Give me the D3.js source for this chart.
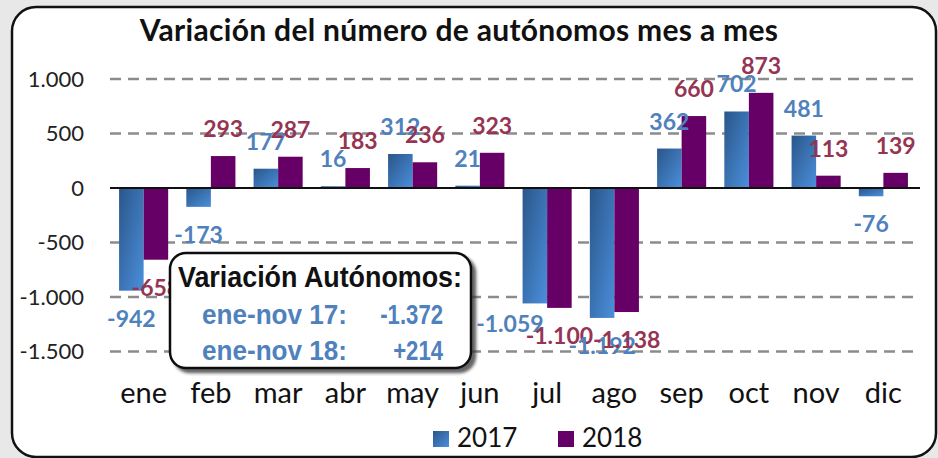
<!DOCTYPE html>
<html>
<head>
<meta charset="utf-8">
<title>Variación del número de autónomos mes a mes</title>
<script src="https://d3js.org/d3.v7.min.js"></script>
<style>
  body { margin: 0; background: #e8e8e8; }
  svg { display: block; }
  text { font-family: Lato, "Open Sans", sans-serif; }
  .box text { font-family: "Liberation Sans", Arial, sans-serif; }
</style>
</head>
<body>
<script>
// Data
var months = ["ene", "feb", "mar", "abr", "may", "jun", "jul", "ago", "sep", "oct", "nov", "dic"];
var years = ["2017", "2018"];
var values2017 = [-942, -173, 177, 16, 312, 21, -1059, -1192, 362, 702, 481, -76];
var values2018 = [-658, 293, 287, 183, 236, 323, -1100, -1138, 660, 873, 113, 139];
var yTicks = [1000, 500, 0, -500, -1000, -1500];
var title = "Variación del número de autónomos mes a mes";
var boxTitle = "Variación Autónomos:";
var boxRows = [["ene-nov 17:", "-1.372"], ["ene-nov 18:", "+214"]];

var W = 938, H = 458;
var svg = d3.select("body").append("svg")
  .attr("width", W)
  .attr("height", H);

var defs = svg.append("defs");
var grad = defs.append("linearGradient")
  .attr("id", "blueGrad")
  .attr("x1", "0").attr("y1", "0").attr("x2", "1").attr("y2", "1");
grad.append("stop").attr("offset", "0%").attr("stop-color", "#2a5689");
grad.append("stop").attr("offset", "100%").attr("stop-color", "#4b8fdc");

var shadow = defs.append("filter").attr("id", "shadow")
  .attr("x", "-10%").attr("y", "-10%").attr("width", "130%").attr("height", "130%");
shadow.append("feDropShadow")
  .attr("dx", 4).attr("dy", 4).attr("stdDeviation", 1.5)
  .attr("flood-color", "#333").attr("flood-opacity", 0.75);

// Outer frame
svg.append("rect")
  .attr("x", 0).attr("y", 0).attr("width", W).attr("height", H)
  .attr("fill", "#e8e8e8");
svg.append("rect")
  .attr("x", 12).attr("y", 7).attr("width", 924).attr("height", 450)
  .attr("rx", 24)
  .attr("fill", "#fff")
  .attr("stroke", "#111")
  .attr("stroke-width", 2.5);

// Title
svg.append("text")
  .attr("x", 459).attr("y", 41)
  .attr("text-anchor", "middle")
  .style("font-size", "30px")
  .style("font-weight", "bold")
  .style("letter-spacing", "0.3px")
  .attr("fill", "#111")
  .text(title);

// Scales
var x = d3.scaleBand()
  .domain(months)
  .range([110, 917])
  .paddingInner(0.27)
  .paddingOuter(0.135);

var xs = d3.scaleBand()
  .domain(years)
  .range([0, x.bandwidth()]);

var y = d3.scaleLinear()
  .domain([-1500, 1000])
  .range([351.5, 79]);

// Gridlines
svg.append("g")
  .selectAll("line")
  .data(yTicks.filter(function(d) { return d !== 0; }))
  .enter().append("line")
  .attr("x1", 110).attr("x2", 920)
  .attr("y1", function(d) { return y(d); })
  .attr("y2", function(d) { return y(d); })
  .attr("stroke", "#8c8c8c")
  .attr("stroke-width", 2.5)
  .attr("stroke-dasharray", "11,7");

// Y axis
var yAxis = svg.append("g")
  .attr("transform", "translate(84,0)")
  .call(d3.axisLeft(y).tickValues(yTicks).tickSize(0).tickPadding(0)
    .tickFormat(function(d) { return d3.format(",")(d).replace(/,/g, ".").replace("−", "-"); }));
yAxis.select(".domain").remove();
yAxis.selectAll("text")
  .style("font-family", "Lato, sans-serif")
  .style("font-size", "22px")
  .attr("fill", "#222");

// Bars
var rows = months.map(function(m, i) {
  return { month: m, vals: [
    { year: "2017", v: values2017[i] },
    { year: "2018", v: values2018[i] }
  ]};
});

var groups = svg.append("g")
  .selectAll("g")
  .data(rows)
  .enter().append("g")
  .attr("transform", function(d) { return "translate(" + x(d.month) + ",0)"; });

groups.selectAll("rect")
  .data(function(d) { return d.vals; })
  .enter().append("rect")
  .attr("x", function(d) { return xs(d.year); })
  .attr("width", xs.bandwidth())
  .attr("y", function(d) { return y(Math.max(0, d.v)); })
  .attr("height", function(d) { return Math.abs(y(d.v) - y(0)); })
  .attr("fill", function(d) { return d.year === "2017" ? "url(#blueGrad)" : "#660066"; });

// Zero line
svg.append("line")
  .attr("x1", 110).attr("x2", 920)
  .attr("y1", y(0)).attr("y2", y(0))
  .attr("stroke", "#111")
  .attr("stroke-width", 2);

// Value labels (one label was moved by hand in the original)
var nudge = { "jul-2017": [-25, -7] };
var fmt = function(v) { return d3.format(",")(v).replace(/,/g, ".").replace("−", "-"); };

groups.selectAll("text.val")
  .data(function(d) { return d.vals.map(function(e) { return { month: d.month, year: e.year, v: e.v }; }); })
  .enter().append("text")
  .attr("class", "val")
  .attr("x", function(d) {
    var n = nudge[d.month + "-" + d.year];
    return xs(d.year) + xs.bandwidth() / 2 + (n ? n[0] : 0);
  })
  .attr("y", function(d) {
    var n = nudge[d.month + "-" + d.year];
    var base = d.v >= 0 ? y(d.v) - 19 : y(d.v) + 36;
    return base + (n ? n[1] : 0);
  })
  .attr("text-anchor", "middle")
  .style("font-size", "23px")
  .style("font-weight", "bold")
  .attr("fill", function(d) { return d.year === "2017" ? "#4f81bd" : "#953553"; })
  .text(function(d) { return fmt(d.v); });

// Category labels
svg.append("g")
  .selectAll("text")
  .data(months)
  .enter().append("text")
  .attr("x", function(d) { return x(d) + x.bandwidth() / 2; })
  .attr("y", 403)
  .attr("text-anchor", "middle")
  .style("font-size", "29px")
  .attr("fill", "#111")
  .text(function(d) { return d; });

// Summary box
var box = svg.append("g").attr("class", "box");
box.append("rect")
  .attr("x", 170).attr("y", 253).attr("width", 301).attr("height", 115)
  .attr("rx", 16)
  .attr("fill", "#fff")
  .attr("stroke", "#111")
  .attr("stroke-width", 2.5)
  .attr("filter", "url(#shadow)");
box.append("text")
  .attr("x", 178).attr("y", 287)
  .attr("textLength", 284)
  .attr("lengthAdjust", "spacingAndGlyphs")
  .style("font-size", "30px")
  .style("font-weight", "bold")
  .attr("fill", "#111")
  .text(boxTitle);
boxRows.forEach(function(r, i) {
  box.append("text")
    .attr("x", 202).attr("y", 324 + i * 36)
    .attr("textLength", 145)
    .attr("lengthAdjust", "spacingAndGlyphs")
    .style("font-size", "27px")
    .style("font-weight", "bold")
    .attr("fill", "#4f81bd")
    .text(r[0]);
  box.append("text")
    .attr("x", 443).attr("y", 324 + i * 36)
    .attr("text-anchor", "end")
    .attr("transform", "translate(443,0) scale(0.82,1) translate(-443,0)")
    .style("font-size", "27px")
    .style("font-weight", "bold")
    .attr("fill", "#4f81bd")
    .text(r[1]);
});

// Legend
var legend = svg.append("g")
  .selectAll("g")
  .data(years)
  .enter().append("g")
  .attr("transform", function(d, i) { return "translate(" + (433 + i * 125) + ",431)"; });
legend.append("rect")
  .attr("width", 16).attr("height", 16)
  .attr("fill", function(d) { return d === "2017" ? "url(#blueGrad)" : "#660066"; });
legend.append("text")
  .attr("x", 24).attr("y", 16)
  .style("font-size", "26px")
  .attr("fill", "#111")
  .text(function(d) { return d; });
</script>
</body>
</html>
